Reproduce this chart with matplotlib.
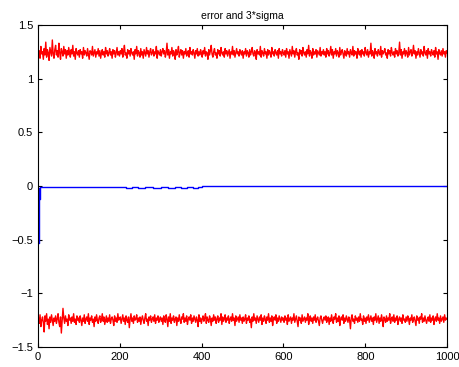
import numpy as np
import matplotlib
matplotlib.use("Agg")
import matplotlib.pyplot as plt

title = "error and 3*sigma"

upper = [
1.21,1.26,1.19,1.30,1.23,1.25,1.18,1.28,1.22,1.34,1.20,1.27,1.24,1.17,1.29,1.25,1.21,1.36,1.23,1.19,1.27,1.31,1.22,1.26,1.20,1.33,1.24,1.18,1.28,1.25,1.21,1.30,1.23,1.27,1.19,1.26,1.22,1.29,1.24,1.20,1.27,1.23,1.31,1.21,1.25,1.18,1.28,1.24,1.22,1.26,
1.20,1.27,1.23,1.25,1.19,1.29,1.22,1.26,1.24,1.21,1.28,1.23,1.18,1.26,1.25,1.22,1.30,1.21,1.24,1.27,1.20,1.25,1.23,1.28,1.21,1.26,1.19,1.24,1.27,1.22,1.25,1.20,1.29,1.23,1.26,1.21,1.24,1.28,1.22,1.25,1.19,1.27,1.23,1.26,1.20,1.24,1.29,1.22,1.25,1.21,
1.26,1.23,1.28,1.20,1.25,1.31,1.22,1.24,1.19,1.27,1.23,1.26,1.21,1.28,1.24,1.22,1.25,1.18,1.27,1.23,1.30,1.21,1.26,1.24,1.20,1.28,1.22,1.25,1.19,1.27,1.24,1.21,1.29,1.23,1.26,1.20,1.25,1.28,1.22,1.24,1.27,1.21,1.25,1.23,1.30,1.19,1.26,1.24,1.22,1.27,
1.21,1.25,1.28,1.23,1.26,1.20,1.24,1.33,1.22,1.27,1.19,1.25,1.23,1.29,1.21,1.26,1.24,1.18,1.27,1.22,1.25,1.30,1.20,1.24,1.27,1.22,1.26,1.19,1.25,1.23,1.28,1.21,1.24,1.26,1.20,1.29,1.23,1.25,1.22,1.27,1.24,1.19,1.26,1.23,1.28,1.21,1.25,1.22,1.27,1.24,
1.20,1.26,1.23,1.29,1.21,1.25,1.24,1.18,1.27,1.22,1.26,1.31,1.23,1.20,1.25,1.28,1.22,1.24,1.19,1.27,1.23,1.26,1.21,1.29,1.24,1.22,1.25,1.20,1.28,1.23,1.26,1.21,1.24,1.27,1.19,1.25,1.23,1.30,1.22,1.26,1.20,1.24,1.28,1.23,1.25,1.21,1.27,1.24,1.22,1.26,
1.19,1.25,1.23,1.28,1.21,1.26,1.24,1.20,1.27,1.22,1.25,1.29,1.23,1.21,1.26,1.24,1.18,1.27,1.23,1.25,1.22,1.30,1.20,1.26,1.24,1.21,1.28,1.23,1.25,1.19,1.27,1.22,1.26,1.24,1.20,1.29,1.23,1.25,1.21,1.27,1.24,1.22,1.26,1.19,1.28,1.23,1.25,1.21,1.27,1.24,
1.22,1.26,1.20,1.28,1.23,1.25,1.19,1.27,1.24,1.21,1.30,1.23,1.26,1.20,1.25,1.28,1.22,1.24,1.18,1.27,1.23,1.26,1.21,1.29,1.24,1.22,1.25,1.20,1.27,1.23,1.31,1.21,1.26,1.24,1.19,1.28,1.22,1.25,1.23,1.27,1.20,1.26,1.24,1.22,1.29,1.21,1.25,1.23,1.27,1.22,
1.25,1.20,1.28,1.23,1.26,1.21,1.24,1.30,1.22,1.27,1.19,1.25,1.23,1.28,1.21,1.26,1.24,1.20,1.29,1.22,1.25,1.27,1.23,1.19,1.26,1.24,1.21,1.28,1.23,1.25,1.20,1.27,1.24,1.22,1.30,1.21,1.26,1.23,1.25,1.19,1.28,1.24,1.22,1.26,1.20,1.27,1.23,1.25,1.21,1.29,
1.24,1.22,1.27,1.20,1.25,1.23,1.33,1.21,1.26,1.24,1.19,1.28,1.23,1.25,1.21,1.27,1.24,1.22,1.30,1.20,1.26,1.23,1.25,1.28,1.22,1.24,1.19,1.27,1.23,1.26,1.21,1.29,1.24,1.22,1.25,1.20,1.28,1.23,1.26,1.21,1.24,1.34,1.22,1.27,1.19,1.25,1.23,1.28,1.21,1.26,
1.24,1.20,1.29,1.22,1.25,1.27,1.21,1.24,1.31,1.23,1.26,1.19,1.25,1.22,1.28,1.24,1.20,1.27,1.23,1.25,1.21,1.30,1.24,1.22,1.26,1.19,1.28,1.23,1.25,1.21,1.27,1.24,1.22,1.26,1.20,1.29,1.23,1.25,1.18,1.27,1.24,1.22,1.26,1.21,1.28,1.23,1.25,1.20,1.26,1.24]

lower = [
-1.23,-1.28,-1.20,-1.31,-1.25,-1.22,-1.27,-1.36,-1.21,-1.26,-1.19,-1.29,-1.24,-1.33,-1.22,-1.27,-1.20,-1.25,-1.30,-1.23,-1.26,-1.21,-1.28,-1.24,-1.19,-1.27,-1.31,-1.22,-1.37,-1.25,-1.14,-1.23,-1.28,-1.21,-1.26,-1.24,-1.30,-1.20,-1.25,-1.23,-1.28,-1.22,-1.26,-1.19,-1.27,-1.24,-1.29,-1.21,-1.25,-1.23,
-1.27,-1.21,-1.25,-1.30,-1.23,-1.26,-1.20,-1.28,-1.24,-1.22,-1.26,-1.19,-1.29,-1.23,-1.25,-1.21,-1.27,-1.24,-1.31,-1.22,-1.26,-1.20,-1.25,-1.28,-1.23,-1.21,-1.27,-1.24,-1.19,-1.26,-1.22,-1.29,-1.25,-1.21,-1.27,-1.23,-1.26,-1.20,-1.28,-1.24,-1.22,-1.25,-1.30,-1.21,-1.26,-1.23,-1.27,-1.19,-1.25,-1.24,
-1.22,-1.28,-1.24,-1.20,-1.26,-1.23,-1.29,-1.21,-1.25,-1.27,-1.22,-1.32,-1.24,-1.19,-1.26,-1.23,-1.28,-1.21,-1.25,-1.24,-1.20,-1.27,-1.23,-1.26,-1.22,-1.29,-1.24,-1.21,-1.25,-1.28,-1.23,-1.19,-1.26,-1.24,-1.30,-1.22,-1.25,-1.21,-1.27,-1.24,-1.22,-1.26,-1.20,-1.28,-1.23,-1.25,-1.21,-1.27,-1.24,-1.22,
-1.26,-1.23,-1.29,-1.21,-1.25,-1.27,-1.20,-1.24,-1.31,-1.22,-1.26,-1.19,-1.28,-1.23,-1.25,-1.21,-1.27,-1.24,-1.22,-1.30,-1.23,-1.26,-1.20,-1.25,-1.28,-1.22,-1.24,-1.19,-1.27,-1.23,-1.26,-1.21,-1.29,-1.24,-1.22,-1.25,-1.20,-1.28,-1.23,-1.26,-1.21,-1.24,-1.27,-1.22,-1.25,-1.31,-1.20,-1.26,-1.23,-1.28,
-1.24,-1.21,-1.26,-1.23,-1.19,-1.28,-1.22,-1.25,-1.27,-1.21,-1.24,-1.30,-1.23,-1.26,-1.20,-1.25,-1.22,-1.28,-1.24,-1.21,-1.27,-1.23,-1.25,-1.19,-1.29,-1.22,-1.26,-1.24,-1.20,-1.27,-1.23,-1.25,-1.21,-1.28,-1.24,-1.22,-1.26,-1.19,-1.25,-1.23,-1.30,-1.21,-1.26,-1.24,-1.22,-1.27,-1.20,-1.25,-1.23,-1.28,
-1.22,-1.26,-1.24,-1.20,-1.28,-1.23,-1.25,-1.21,-1.27,-1.24,-1.32,-1.22,-1.26,-1.19,-1.25,-1.23,-1.28,-1.21,-1.24,-1.27,-1.22,-1.25,-1.20,-1.29,-1.23,-1.26,-1.21,-1.24,-1.28,-1.22,-1.25,-1.19,-1.27,-1.23,-1.26,-1.21,-1.30,-1.24,-1.22,-1.25,-1.20,-1.28,-1.23,-1.26,-1.21,-1.24,-1.27,-1.22,-1.25,-1.23,
-1.27,-1.21,-1.25,-1.23,-1.29,-1.20,-1.26,-1.24,-1.22,-1.28,-1.23,-1.25,-1.19,-1.27,-1.24,-1.21,-1.26,-1.31,-1.22,-1.25,-1.23,-1.28,-1.20,-1.26,-1.24,-1.22,-1.27,-1.23,-1.25,-1.19,-1.29,-1.24,-1.21,-1.26,-1.23,-1.28,-1.22,-1.25,-1.20,-1.27,-1.24,-1.22,-1.26,-1.30,-1.23,-1.21,-1.25,-1.28,-1.24,-1.22,
-1.25,-1.21,-1.27,-1.24,-1.22,-1.29,-1.23,-1.26,-1.20,-1.25,-1.28,-1.22,-1.24,-1.19,-1.27,-1.23,-1.26,-1.21,-1.30,-1.24,-1.22,-1.25,-1.20,-1.28,-1.23,-1.26,-1.21,-1.24,-1.27,-1.22,-1.25,-1.33,-1.23,-1.20,-1.26,-1.24,-1.28,-1.21,-1.25,-1.23,-1.27,-1.22,-1.26,-1.19,-1.25,-1.24,-1.29,-1.21,-1.26,-1.23,
-1.28,-1.22,-1.25,-1.20,-1.27,-1.24,-1.21,-1.26,-1.23,-1.29,-1.22,-1.25,-1.19,-1.27,-1.24,-1.21,-1.28,-1.23,-1.26,-1.20,-1.25,-1.31,-1.22,-1.24,-1.27,-1.21,-1.26,-1.23,-1.25,-1.19,-1.28,-1.24,-1.22,-1.26,-1.20,-1.27,-1.23,-1.25,-1.21,-1.29,-1.24,-1.22,-1.26,-1.23,-1.28,-1.20,-1.25,-1.24,-1.27,-1.22,
-1.26,-1.21,-1.24,-1.29,-1.23,-1.25,-1.20,-1.27,-1.24,-1.22,-1.26,-1.30,-1.21,-1.25,-1.23,-1.28,-1.22,-1.24,-1.19,-1.27,-1.23,-1.26,-1.21,-1.25,-1.28,-1.24,-1.22,-1.26,-1.20,-1.27,-1.23,-1.25,-1.21,-1.29,-1.24,-1.22,-1.26,-1.19,-1.25,-1.23,-1.28,-1.21,-1.26,-1.24,-1.22,-1.27,-1.20,-1.25,-1.23,-1.24]

blue_x = [1, 2, 3, 4, 5, 8, 215, 230, 245, 262, 280, 300, 318, 335, 350, 365, 380, 392, 400, 1000]
blue_y = [-0.53, -0.02, -0.12, -0.015, -0.012, -0.012, -0.02, -0.012, -0.02, -0.012, -0.018, -0.012,
          -0.02, -0.012, -0.018, -0.01, -0.016, -0.008, -0.002, -0.002]

xticks = [0, 200, 400, 600, 800, 1000]
yticks = [-1.5, -1, -0.5, 0, 0.5, 1, 1.5]
ytick_labels = ["\u22121.5", "\u22121", "\u22120.5", "0", "0.5", "1", "1.5"]

plt.rcParams['font.family'] = ['Liberation Sans', 'DejaVu Sans']
fig = plt.figure(figsize=(4.59, 3.67), dpi=100)
ax = fig.add_axes([0.0828, 0.0545, 0.8912, 0.8775])

xu = np.linspace(1, 1000, len(upper))
xl = np.linspace(1, 1000, len(lower))
ax.plot(xu, upper, color='#ff0000', lw=1.0)
ax.plot(xl, lower, color='#ff0000', lw=1.0)
ax.plot(blue_x, blue_y, color='#0000ff', lw=1.0, drawstyle='steps-post')

ax.set_xlim(0, 1000)
ax.set_ylim(-1.5, 1.5)
ax.set_xticks(xticks)
ax.set_yticks(yticks)
ax.set_yticklabels(ytick_labels)
ax.tick_params(direction='in', length=3, labelsize=8, top=True, right=True, width=0.8)
for s in ax.spines.values():
    s.set_linewidth(0.8)
ax.set_title(title, fontsize=7.5, pad=4)

fig.savefig("out.png", dpi=100)
